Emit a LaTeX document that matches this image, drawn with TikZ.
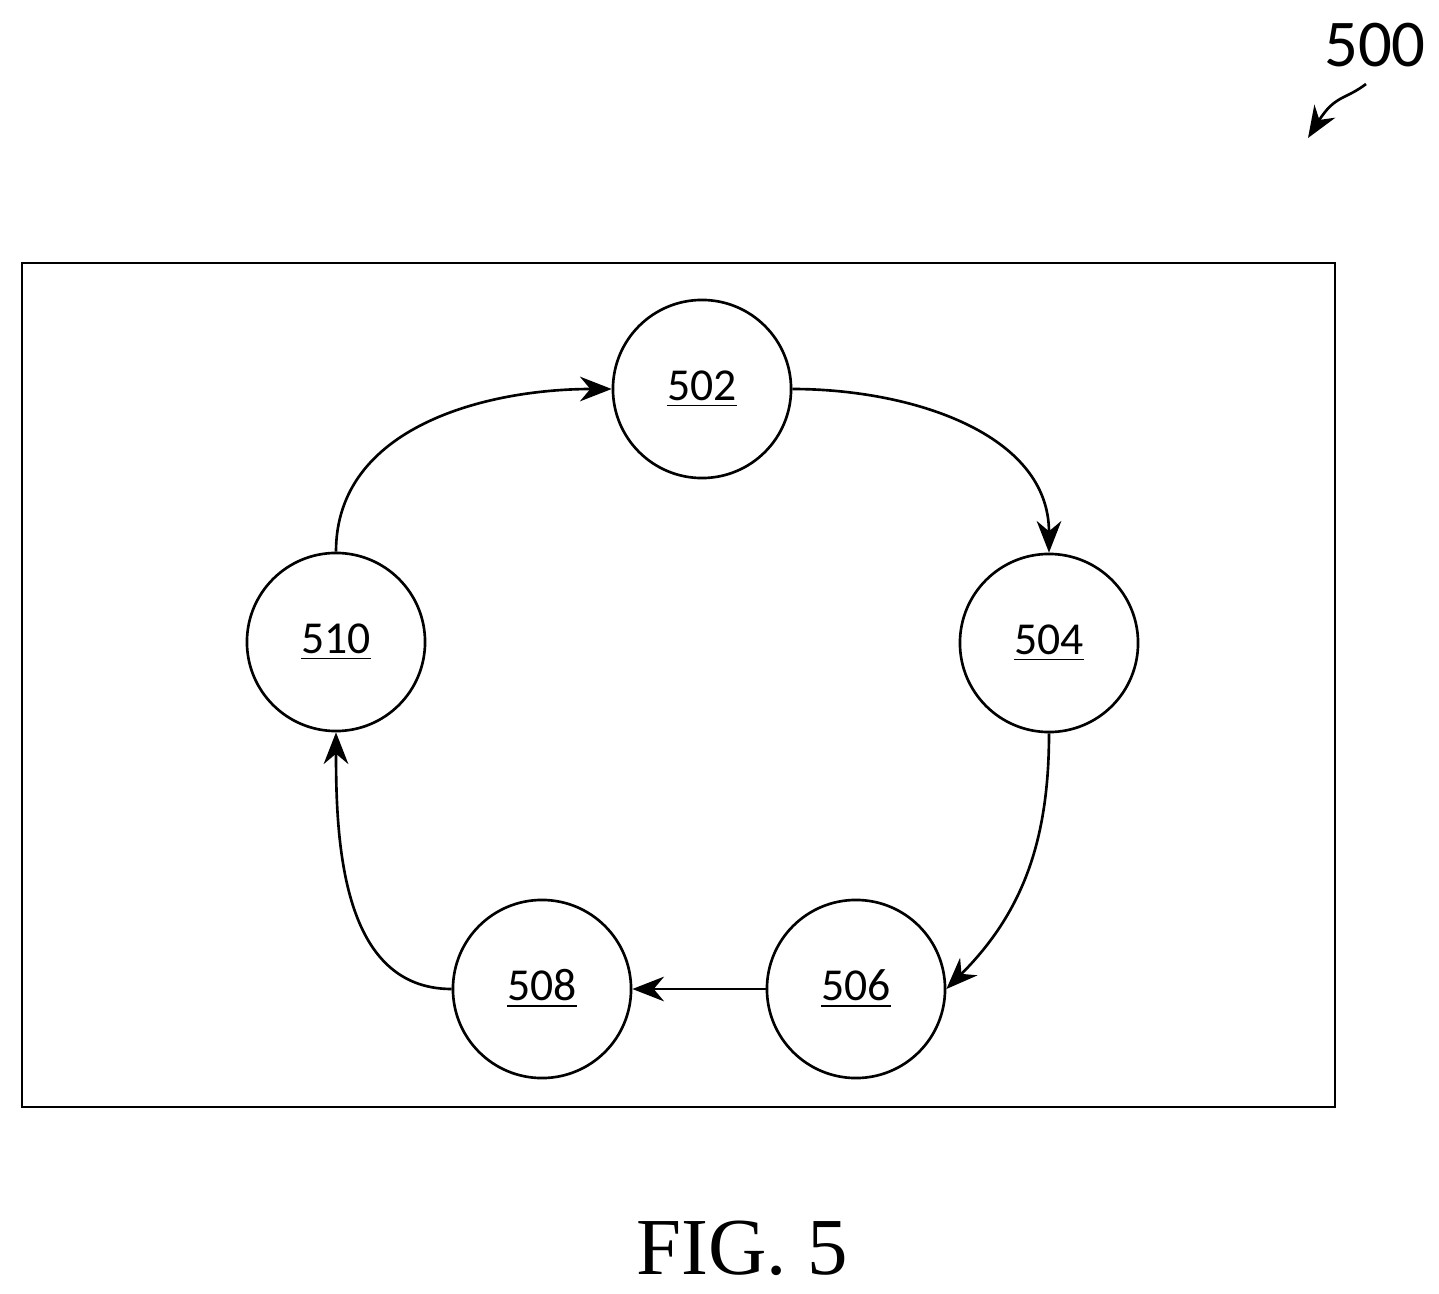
\documentclass[tikz,border=0pt]{standalone}
\usepackage{fontspec}
\setmainfont{Carlito}
\newfontfamily\figfont{Liberation Serif}
\usetikzlibrary{arrows.meta,positioning}

\begin{document}
\begin{tikzpicture}[x=0.01cm,y=-0.01cm]
\tikzset{state/.style={draw,circle,line width=0.75pt,minimum size=1.78cm,inner sep=0pt,font=\fontsize{13}{15}\selectfont},
  flow/.style={line width=0.75pt,-{Stealth[length=9pt,width=7pt]}}}
\useasboundingbox (0,0) rectangle (1439,1294);
\draw [line width=0.75pt] (22,263) rectangle (1335,1107);
\node [state] (n502) at (702,389) {\underline{502}};
\node [state] (n504) at (1049,643) {\underline{504}};
\node [state] (n506) at (856,989) {\underline{506}};
\node [state] (n508) at (542,989) {\underline{508}};
\node [state] (n510) at (336,642) {\underline{510}};
\draw [flow] (n502.east) to [out=0,in=90] (n504.north);
\draw [flow] (n504.south) to [out=-90,in=45] (n506.east);
\draw [flow] (n506.west) -- (n508.east);
\draw [flow] (n508.west) to [out=180,in=-90] (n510.south);
\draw [flow] (n510.north) to [out=90,in=180] (n502.west);
% reference label
\node [font=\fontsize{19}{22}\selectfont] (ref) at (1375,45) {500};
\coordinate (tip) at (1308,138);
\draw [flow] (1366,84) .. controls (1345,100) and (1335,95) .. (tip);
\node [font=\figfont\fontsize{23}{26}\selectfont] (cap) at (742,1248) {FIG. 5};
\end{tikzpicture}
\end{document}
